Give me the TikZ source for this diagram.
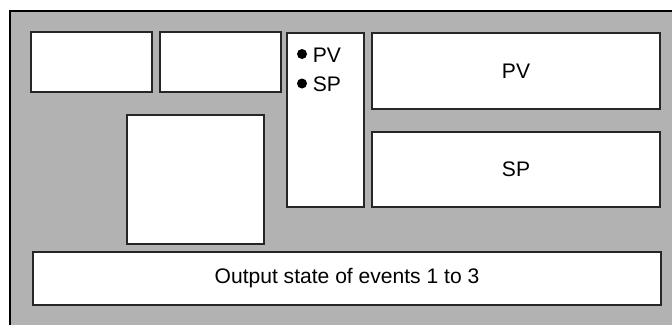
\documentclass[tikz,border=0pt]{standalone}
\usepackage{fontspec}
\setmainfont{Liberation Sans}
\usepackage{tikz}

\tikzset{
  panel/.style={draw=black!85, line width=1.4pt, fill=white, inner sep=0pt},
  itemdot/.style={circle, fill=black, inner sep=0pt, minimum size=7.5pt},
  itemtext/.style={anchor=base west, inner sep=0pt}
}

\begin{document}
\begin{tikzpicture}[x=0.75pt, y=-0.75pt, font=\fontsize{15.8}{19}\selectfont]
  \useasboundingbox (0,0) rectangle (672,325);
  % frame
  \fill[black!30] (10,11) rectangle (672,325);
  \draw[line width=2.2pt, line cap=rect] (10,325) -- (10,11) -- (672,11);
  % boxes
  \draw[panel] (31,32) rectangle (152,92) coordinate (boxa);
  \draw[panel] (160,32) rectangle (281,92) coordinate (boxb);
  \draw[panel] (127,115) rectangle (264,244) coordinate (boxc);
  \draw[panel] (287,33) rectangle (364,207) coordinate (list);
  \draw[panel] (372,33) rectangle (660,109) coordinate (pvbox);
  \draw[panel] (372,132) rectangle (660,207) coordinate (spbox);
  \draw[panel] (33,252) rectangle (661,305) coordinate (outbox);
  % labels
  \node (pv) at (516,71) {PV};
  \node (sp) at (516,169.5) {SP};
  \node (out) at (347,278.5) {Output state of events 1 to 3};
  \foreach \y/\t/\n in {62/PV/one, 91.5/SP/two} {
    \node[itemdot] (dot\n) at (302,\y-8) {};
    \node[itemtext] (item\n) at (312.5,\y) {\t};
  }
\end{tikzpicture}
\end{document}
